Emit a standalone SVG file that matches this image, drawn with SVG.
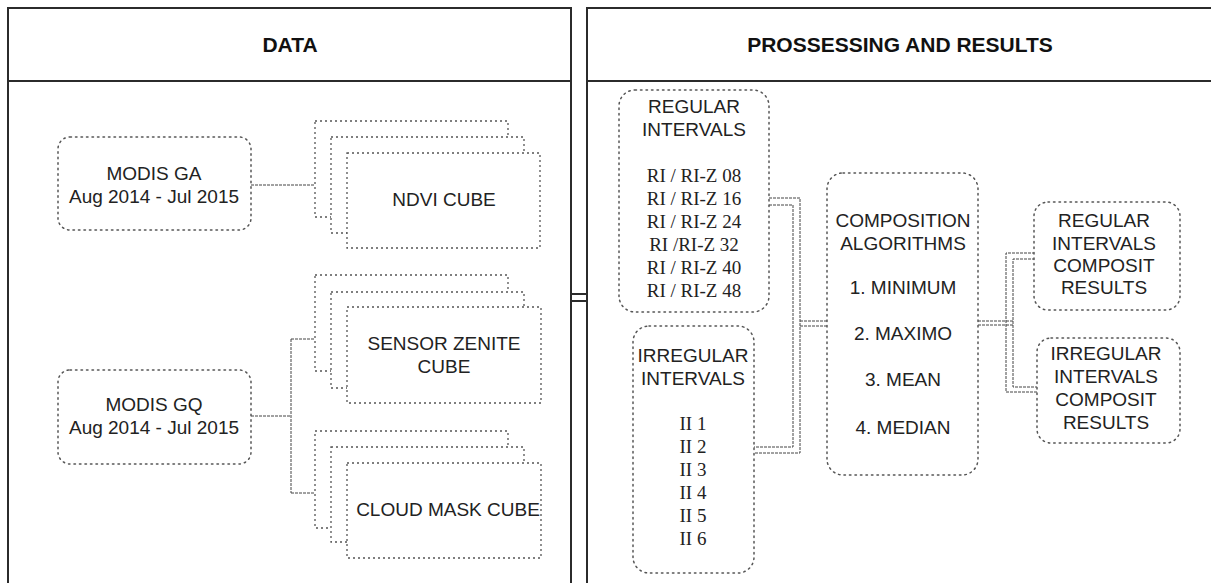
<svg xmlns="http://www.w3.org/2000/svg" width="1211" height="583" viewBox="0 0 1211 583">
<style>
.panel{fill:none;stroke:#2b2b2b;stroke-width:2}
.hdr{font-family:"Liberation Sans",Arial,sans-serif;font-weight:bold;font-size:21px;fill:#111;text-anchor:middle}
.box{fill:#fff;stroke:#555;stroke-width:1.5;stroke-dasharray:1.5 4;stroke-linecap:round}
.cube{fill:#fff;stroke:#555;stroke-width:1.3;stroke-dasharray:2 3}
.t{font-family:"Liberation Sans",Arial,sans-serif;font-size:19px;fill:#222;text-anchor:middle}
.s{font-family:"Liberation Serif","Times New Roman",serif;font-size:19px;fill:#222;text-anchor:middle}
.c{fill:none;stroke:#444;stroke-width:1;stroke-dasharray:3 1}
</style>
<rect width="1211" height="583" fill="#fff"/>
<g id="panels">
<rect class="panel" x="8" y="8" width="563" height="600"/>
<line class="panel" x1="8" y1="81" x2="571" y2="81"/>
<path class="panel" d="M587,600 V8 H1220"/>
<line class="panel" x1="587" y1="81" x2="1211" y2="81"/>
<line class="panel" x1="571" y1="294" x2="587" y2="294"/>
<line class="panel" x1="571" y1="301" x2="587" y2="301"/>
<text class="hdr" x="290" y="52">DATA</text>
<text class="hdr" x="900" y="52">PROSSESSING AND RESULTS</text>
</g>
<g id="connectors">
<path class="c" d="M251,185 H315"/>
<path class="c" d="M251,416 H291 M291,339 V493 M291,339 H315 M291,493 H315"/>
<path class="c" d="M769,198 H800 V453 H754"/>
<path class="c" d="M769,205 H793 V447 H754"/>
<path class="c" d="M800,321 H827 M800,326 H827"/>
<path class="c" d="M978,321 H1013 M978,325 H1013"/>
<path class="c" d="M1035,253 H1006 V392 H1037"/>
<path class="c" d="M1035,259 H1013 V387 H1037"/>
</g>
<g id="modis-ga">
<rect class="box" x="58" y="137" width="193" height="93" rx="12"/>
<text class="t" x="154" y="180">MODIS GA</text>
<text class="t" x="154" y="203">Aug 2014 - Jul 2015</text>
</g>
<g id="modis-gq">
<rect class="box" x="58" y="370" width="193" height="94" rx="12"/>
<text class="t" x="154" y="411">MODIS GQ</text>
<text class="t" x="154" y="434">Aug 2014 - Jul 2015</text>
</g>
<g id="ndvi-cube">
<rect class="cube" x="315" y="121" width="193" height="96"/>
<rect class="cube" x="331" y="137" width="193" height="96"/>
<rect class="cube" x="347" y="153" width="193" height="95"/>
<text class="t" x="444" y="206">NDVI CUBE</text>
</g>
<g id="sensor-zenite-cube">
<rect class="cube" x="315" y="275" width="193" height="96"/>
<rect class="cube" x="331" y="292" width="193" height="96"/>
<rect class="cube" x="347" y="307" width="194" height="96"/>
<text class="t" x="444" y="350">SENSOR ZENITE</text>
<text class="t" x="444" y="373">CUBE</text>
</g>
<g id="cloud-mask-cube">
<rect class="cube" x="315" y="431" width="193" height="97"/>
<rect class="cube" x="331" y="447" width="193" height="95"/>
<rect class="cube" x="347" y="463" width="194" height="95"/>
<text class="t" x="448" y="516">CLOUD MASK CUBE</text>
</g>
<g id="regular-intervals">
<rect class="box" x="619" y="90" width="150" height="222" rx="16"/>
<text class="t" x="694" y="113">REGULAR</text>
<text class="t" x="694" y="136">INTERVALS</text>
<text class="s" x="694" y="182">RI / RI-Z 08</text>
<text class="s" x="694" y="205">RI / RI-Z 16</text>
<text class="s" x="694" y="228">RI / RI-Z 24</text>
<text class="s" x="694" y="251">RI /RI-Z 32</text>
<text class="s" x="694" y="274">RI / RI-Z 40</text>
<text class="s" x="694" y="297">RI / RI-Z 48</text>
</g>
<g id="irregular-intervals">
<rect class="box" x="633" y="326" width="121" height="247" rx="16"/>
<text class="t" x="693" y="362">IRREGULAR</text>
<text class="t" x="693" y="385">INTERVALS</text>
<text class="s" x="693" y="430">II 1</text>
<text class="s" x="693" y="453">II 2</text>
<text class="s" x="693" y="476">II 3</text>
<text class="s" x="693" y="499">II 4</text>
<text class="s" x="693" y="522">II 5</text>
<text class="s" x="693" y="545">II 6</text>
</g>
<g id="composition-algorithms">
<rect class="box" x="827" y="173" width="151" height="302" rx="16"/>
<text class="t" x="903" y="227">COMPOSITION</text>
<text class="t" x="903" y="250">ALGORITHMS</text>
<text class="t" x="903" y="294">1. MINIMUM</text>
<text class="t" x="903" y="340">2. MAXIMO</text>
<text class="t" x="903" y="386">3. MEAN</text>
<text class="t" x="903" y="434">4. MEDIAN</text>
</g>
<g id="regular-results">
<rect class="box" x="1034" y="202" width="146" height="108" rx="14"/>
<text class="t" x="1104" y="227">REGULAR</text>
<text class="t" x="1104" y="250">INTERVALS</text>
<text class="t" x="1104" y="272">COMPOSIT</text>
<text class="t" x="1104" y="294">RESULTS</text>
</g>
<g id="irregular-results">
<rect class="box" x="1037" y="338" width="143" height="105" rx="14"/>
<text class="t" x="1106" y="360">IRREGULAR</text>
<text class="t" x="1106" y="383">INTERVALS</text>
<text class="t" x="1106" y="406">COMPOSIT</text>
<text class="t" x="1106" y="429">RESULTS</text>
</g>
</svg>
